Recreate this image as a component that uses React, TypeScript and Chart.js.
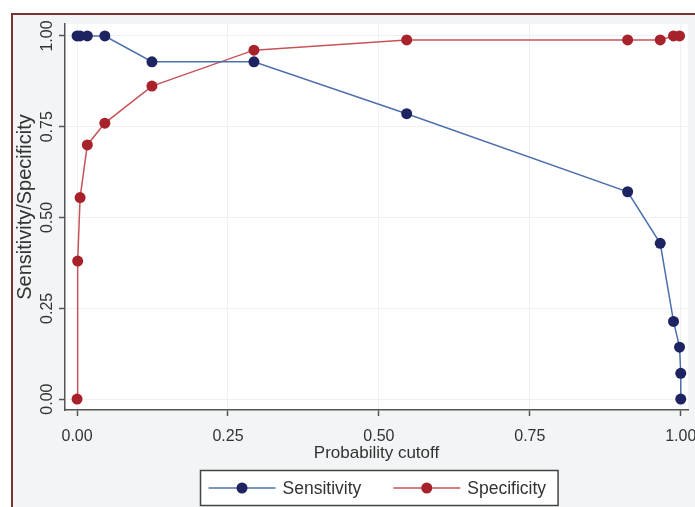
import { useEffect, useRef } from "react";
import { Chart, registerables } from "chart.js";

Chart.register(...registerables);

// ---- data ----
const cutoffSens = [0, 0.005, 0.017, 0.046, 0.124, 0.293, 0.546, 0.912, 0.966, 0.988, 0.998, 1.0, 1.0];
const sensitivity = [1, 1, 1, 1, 0.929, 0.929, 0.786, 0.571, 0.429, 0.214, 0.143, 0.071, 0];
const cutoffSpec = [0, 0.001, 0.005, 0.017, 0.046, 0.124, 0.293, 0.546, 0.912, 0.966, 0.988, 0.998];
const specificity = [0, 0.38, 0.555, 0.7, 0.76, 0.862, 0.961, 0.989, 0.989, 0.989, 1, 1];
const tickValues = [0, 0.25, 0.5, 0.75, 1];
const seriesNames = ["Sensitivity", "Specificity"];
const xTitle = "Probability cutoff";
const yTitle = "Sensitivity/Specificity";

const FONT = '"Liberation Sans", Arial, Helvetica, sans-serif';
const TEXT = "#333333";
const AXIS = "#555555";

const bgPlugin = {
  id: "bgFrame",
  beforeDraw(chart: any) {
    const { ctx, width, height, chartArea: a } = chart;
    ctx.save();
    ctx.fillStyle = "#ffffff";
    ctx.fillRect(0, 0, width, height);
    ctx.fillStyle = "#f2f4f5";
    ctx.fillRect(12, 14, width - 12, height - 14);
    ctx.fillStyle = "#ffffff";
    ctx.fillRect(a.left, a.top, a.right - a.left, a.bottom - a.top);
    ctx.strokeStyle = "#7b3434";
    ctx.lineWidth = 2;
    ctx.beginPath();
    ctx.moveTo(12, height);
    ctx.lineTo(12, 14);
    ctx.lineTo(width, 14);
    ctx.stroke();
    ctx.restore();
  },
};

const yTitlePlugin = {
  id: "yTitle",
  afterDraw(chart: any) {
    const { ctx, chartArea: a } = chart;
    ctx.save();
    ctx.translate(25, (a.top + a.bottom) / 2 - 10);
    ctx.rotate(-Math.PI / 2);
    ctx.font = `20px ${FONT}`;
    ctx.fillStyle = TEXT;
    ctx.textAlign = "center";
    ctx.textBaseline = "middle";
    ctx.fillText(yTitle, 0, 0);
    ctx.restore();
  },
};

const legendPlugin = {
  id: "boxLegend",
  afterDraw(chart: any) {
    const { ctx, chartArea: a } = chart;
    const ds = chart.data.datasets;
    ctx.save();
    ctx.font = `17.5px ${FONT}`;
    const lineLen = 67;
    const padL = 8;
    const padR = 12;
    const gapText = 7;
    const gapItem = 32;
    const widths = ds.map((d: any) => ctx.measureText(d.label).width);
    let total = padL + padR;
    ds.forEach((_: any, i: number) => {
      total += lineLen + gapText + widths[i];
      if (i < ds.length - 1) total += gapItem;
    });
    const cx = (a.left + a.right) / 2 + 2;
    const left = Math.round(cx - total / 2) + 0.5;
    const top = 470.5;
    const h = 35;
    ctx.fillStyle = "#ffffff";
    ctx.fillRect(left, top, total, h);
    ctx.strokeStyle = "#444444";
    ctx.lineWidth = 1.5;
    ctx.strokeRect(left, top, total, h);
    const cy = top + h / 2;
    let x = left + padL;
    ds.forEach((d: any, i: number) => {
      ctx.strokeStyle = d.borderColor;
      ctx.lineWidth = 1.5;
      ctx.beginPath();
      ctx.moveTo(x, cy);
      ctx.lineTo(x + lineLen, cy);
      ctx.stroke();
      ctx.fillStyle = d.pointBackgroundColor;
      ctx.beginPath();
      ctx.arc(x + lineLen / 2, cy, 5.5, 0, Math.PI * 2);
      ctx.fill();
      x += lineLen + gapText;
      ctx.fillStyle = TEXT;
      ctx.textAlign = "left";
      ctx.textBaseline = "middle";
      ctx.fillText(d.label, x, cy + 1);
      x += widths[i] + gapItem;
    });
    ctx.restore();
  },
};

const setTicks = (scale: any) => {
  scale.ticks = tickValues.map((v) => ({ value: v }));
};

export default function App() {
  const ref = useRef<HTMLCanvasElement | null>(null);

  useEffect(() => {
    if (!ref.current) return;
    const chart = new Chart(ref.current, {
      type: "line",
      data: {
        datasets: [
          {
            label: seriesNames[0],
            data: cutoffSens.map((x, i) => ({ x, y: sensitivity[i] })),
            borderColor: "#4c6fae",
            borderWidth: 1.5,
            pointBackgroundColor: "#1e2462",
            pointBorderColor: "#1e2462",
            pointBorderWidth: 0,
            pointRadius: 5.5,
            tension: 0,
            clip: false as any,
          },
          {
            label: seriesNames[1],
            data: cutoffSpec.map((x, i) => ({ x, y: specificity[i] })),
            borderColor: "#c65458",
            borderWidth: 1.5,
            pointBackgroundColor: "#a8222b",
            pointBorderColor: "#a8222b",
            pointBorderWidth: 0,
            pointRadius: 5.5,
            tension: 0,
            clip: false as any,
          },
        ],
      },
      options: {
        responsive: false,
        animation: false,
        layout: { padding: { top: 24, right: 7, left: 0, bottom: 0 } },
        plugins: {
          legend: { display: false },
          tooltip: { enabled: false },
        },
        scales: {
          x: {
            type: "linear",
            min: -0.02,
            max: 1.012,
            afterBuildTicks: setTicks,
            afterFit: (s: any) => {
              s.height = 97;
              s.paddingLeft = 0;
              s.paddingRight = 0;
            },
            grid: {
              color: "#eef1f3",
              lineWidth: 1,
              tickColor: AXIS,
              tickLength: 6,
              tickWidth: 1.5,
            },
            border: { color: AXIS, width: 1.5 },
            ticks: {
              font: { family: FONT, size: 16 },
              color: TEXT,
              padding: 11,
              maxRotation: 0,
              minRotation: 0,
              callback: (v: any) => Number(v).toFixed(2),
            },
            title: {
              display: true,
              text: xTitle,
              font: { family: FONT, size: 17 },
              color: TEXT,
              padding: { top: 0, bottom: 43 },
            },
          },
          y: {
            type: "linear",
            min: -0.03,
            max: 1.033,
            afterBuildTicks: setTicks,
            afterFit: (s: any) => {
              s.width = 65;
              s.paddingTop = 0;
              s.paddingBottom = 0;
            },
            grid: {
              color: "#eef1f3",
              lineWidth: 1,
              tickColor: AXIS,
              tickLength: 6,
              tickWidth: 1.5,
            },
            border: { color: AXIS, width: 1.5 },
            ticks: {
              font: { family: FONT, size: 16 },
              color: TEXT,
              padding: -4,
              minRotation: 90,
              maxRotation: 90,
              crossAlign: "center",
              callback: (v: any) => Number(v).toFixed(2),
            },
          },
        },
      },
      plugins: [bgPlugin, yTitlePlugin, legendPlugin],
    });
    return () => chart.destroy();
  }, []);

  return (
    <div style={{ position: "absolute", left: 0, top: 0, width: 695, height: 507 }}>
      <canvas ref={ref} width={695} height={507} style={{ display: "block" }} />
    </div>
  );
}
